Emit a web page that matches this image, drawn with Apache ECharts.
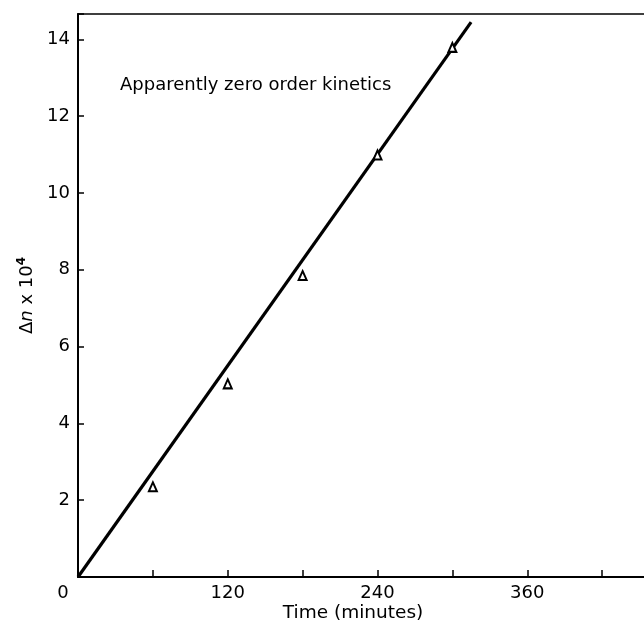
<!DOCTYPE html>
<html>
<head>
<meta charset="utf-8">
<script src="https://cdn.jsdelivr.net/npm/echarts@6/dist/echarts.min.js"></script>
<style>
html,body{margin:0;padding:0;background:#fff;}
#chart{width:644px;height:623px;}
</style>
</head>
<body>
<div id="chart"></div>
<script>
// Data
var timeMinutes = [60, 120, 180, 240, 300];
var deltaN = [2.35, 5.03, 7.85, 10.99, 13.79];
var fitLineTime = [0, 315];
var fitLineDeltaN = [0, 14.45];
var xTickLabels = [0, 120, 240, 360, 480];
var yTickLabels = [0, 2, 4, 6, 8, 10, 12, 14];
var annotation = 'Apparently zero order kinetics';
var xAxisTitle = 'Time (minutes)';

var FONT = 'DejaVu Sans';
var chart = echarts.init(document.getElementById('chart'), null, {renderer: 'canvas'});

var points = timeMinutes.map(function (t, i) { return [t, deltaN[i]]; });
var fit = fitLineTime.map(function (t, i) { return [t, fitLineDeltaN[i]]; });

chart.setOption({
  backgroundColor: '#fff',
  animation: false,
  grid: {
    left: 78, top: 14, right: -33, bottom: 46,
    outerBoundsMode: 'none', containLabel: false,
    show: true, borderColor: '#000', borderWidth: 1.5, backgroundColor: 'transparent'
  },
  xAxis: {
    type: 'value', min: 0, max: 480, interval: 60,
    axisLine: {show: true, lineStyle: {color: '#000', width: 2}},
    axisTick: {show: true, inside: true, length: 7, lineStyle: {color: '#000', width: 1.5}},
    splitLine: {show: false},
    axisLabel: {
      margin: 7,
      color: '#000', fontFamily: FONT, fontSize: 18,
      formatter: function (v) {
        if (xTickLabels.indexOf(v) < 0) return '';
        if (v === 0) return '{z|0}';
        return String(v);
      },
      rich: {z: {fontFamily: FONT, fontSize: 18, color: '#000', padding: [0, 30, 0, 0]}}
    }
  },
  yAxis: {
    type: 'value', min: 0, max: 14.66, interval: 2,
    name: '{a|Δ}{i|n}{a| x 10}{s|4}',
    nameLocation: 'middle', nameRotate: 90, nameGap: 40,
    nameTextStyle: {
      rich: {
        a: {fontFamily: FONT, fontSize: 18, color: '#000'},
        i: {fontFamily: FONT, fontSize: 18, fontStyle: 'italic', color: '#000'},
        s: {fontFamily: FONT, fontSize: 12, fontWeight: 'bold', color: '#000', verticalAlign: 'top', padding: [0, 0, 10, 0]}
      }
    },
    axisLine: {show: true, lineStyle: {color: '#000', width: 2}},
    axisTick: {show: true, inside: true, length: 6, lineStyle: {color: '#000', width: 1.5}},
    splitLine: {show: false},
    axisLabel: {
      margin: 8, color: '#000', fontFamily: FONT, fontSize: 18,
      formatter: function (v) { return yTickLabels.indexOf(v) >= 0 && v !== 0 ? String(v) : ''; }
    }
  },
  graphic: [
    {type: 'text', left: 120, top: 76, style: {text: annotation, font: '18px "DejaVu Sans"', fill: '#000'}},
    {type: 'text', x: 353, y: 613, style: {text: xAxisTitle, font: '18.5px "DejaVu Sans"', fill: '#000', align: 'center', verticalAlign: 'middle'}}
  ],
  series: [
    {
      type: 'line', data: fit, showSymbol: false, symbol: 'none',
      lineStyle: {color: '#000', width: 3.2}, z: 2
    },
    {
      type: 'scatter', data: points, symbol: 'triangle', symbolSize: [8, 9],
      itemStyle: {color: '#fff', borderColor: '#000', borderWidth: 2, opacity: 1}, z: 3
    }
  ]
});
</script>
</body>
</html>
